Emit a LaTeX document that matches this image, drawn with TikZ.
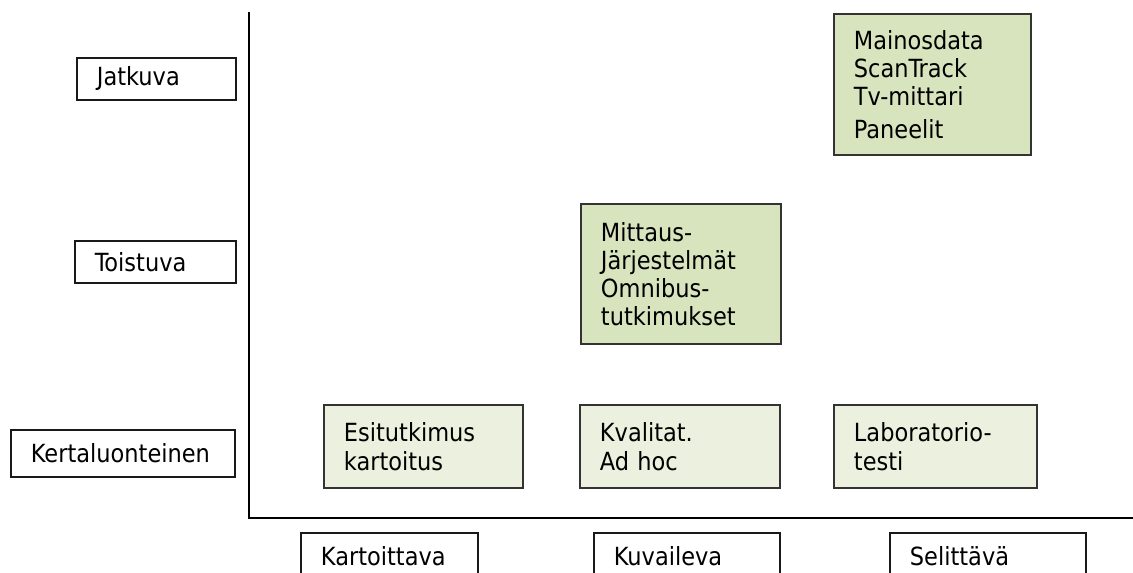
\documentclass[tikz,border=0pt]{standalone}
\usepackage{fontspec}
\setmainfont{DejaVu Sans Condensed}
\definecolor{cellfill}{HTML}{EBF1DE}
\definecolor{hotfill}{HTML}{D7E4BD}

\begin{document}
\begin{tikzpicture}[
  x=1pt, y=-1pt,
  font=\fontsize{25}{28}\selectfont,
  box/.style={draw=black!90, line width=1.9pt, anchor=north west, align=left,
              inner xsep=20pt, inner ysep=0pt},
  cat/.style={box, fill=white},
  cell/.style={box, draw=black!80, fill=cellfill},
  hot/.style={cell, fill=hotfill},
  axis/.style={line width=2.6pt}
]
\useasboundingbox (0,0) rectangle (1133,573);
% ---- axes ----
\coordinate (ytop) at (249,12);
\coordinate (xend) at (1134,518);
\draw[axis] (ytop) |- (xend);
% ---- row labels (left) ----
\node[cat, text width=119pt, minimum height=42pt] (jat) at (76,57)  {Jatkuva};
\node[cat, text width=121pt, minimum height=42pt] (toi) at (74,240) {Toistuva};
\node[cat, text width=184pt, minimum height=47pt] (ker) at (10,429) {Kertaluonteinen};
% ---- column labels (bottom) ----
\node[cat, text width=137pt, minimum height=46pt] (kar) at (300,532) {Kartoittava};
\node[cat, text width=146pt, minimum height=46pt] (kuv) at (593,532) {Kuvaileva};
\node[cat, text width=156pt, minimum height=46pt] (sel) at (889,532) {Selittävä};
% ---- cells ----
\node[cell, text width=159pt, minimum height=83pt, font=\fontsize{25}{29}\selectfont]
  (esi) at (323,404) {Esitutkimus\\kartoitus};
\node[cell, text width=160pt, minimum height=83pt, font=\fontsize{25}{29}\selectfont]
  (kva) at (579,404) {Kvalitat.\\Ad hoc};
\node[cell, text width=163pt, minimum height=83pt, font=\fontsize{25}{29}\selectfont]
  (lab) at (833,404) {Laboratorio-\\testi};
\node[hot, text width=160pt, minimum height=140pt] (mit) at (580,203)
  {Mittaus-\\Järjestelmät\\Omnibus-\\tutkimukset};
\node[hot, text width=157pt, minimum height=141pt] (mai) at (833,13)
  {Mainosdata\\ScanTrack\\Tv-mittari\\[5pt]Paneelit};
\end{tikzpicture}
\end{document}
